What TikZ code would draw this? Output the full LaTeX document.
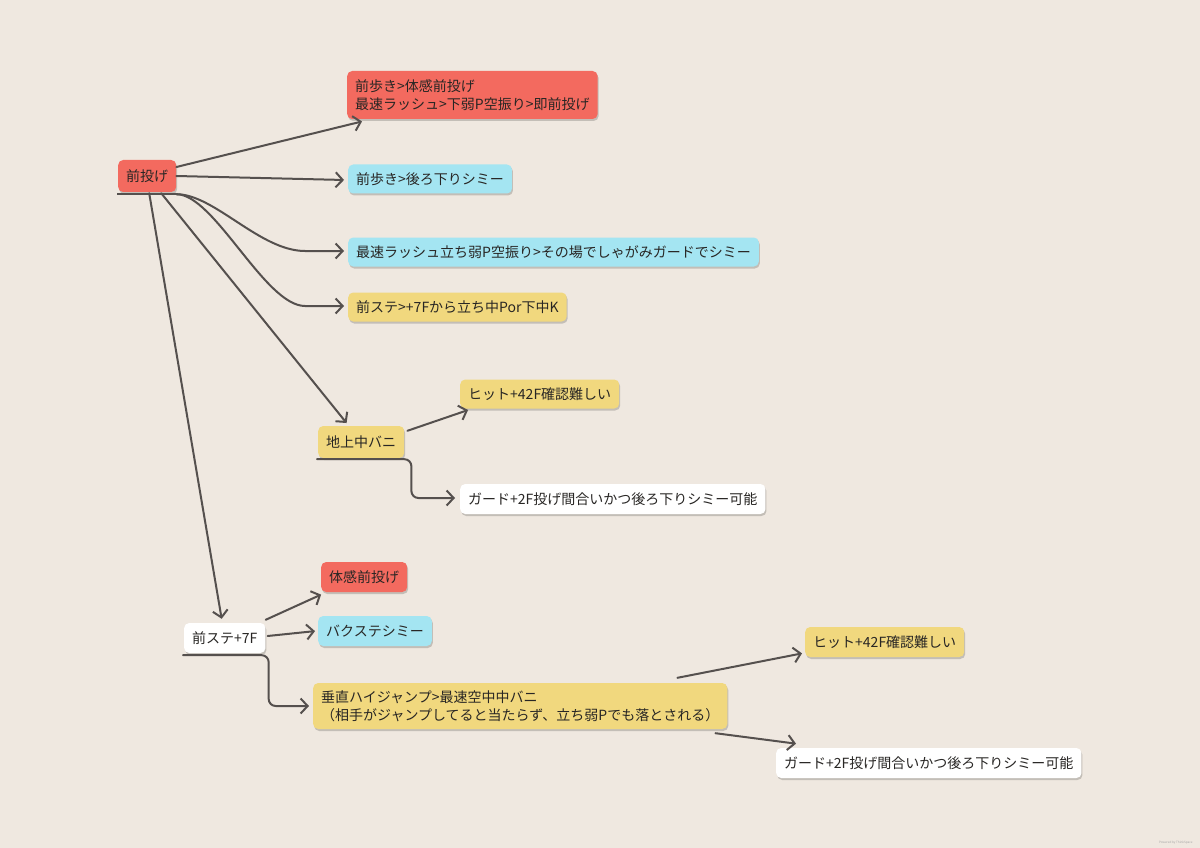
\documentclass[tikz,border=0pt]{standalone}
\usepackage{fontspec}
\setmainfont{Noto Sans CJK JP}
\usetikzlibrary{arrows.meta,shadows}
\definecolor{bg}{RGB}{239,232,224}
\definecolor{boxred}{RGB}{243,106,95}
\definecolor{boxcyan}{RGB}{164,229,242}
\definecolor{boxyellow}{RGB}{241,216,126}
\definecolor{boxwhite}{RGB}{255,255,255}
\definecolor{linegray}{RGB}{85,80,78}
\definecolor{txt}{RGB}{40,38,36}
\tikzset{
  box/.style={rounded corners=5pt, anchor=west, inner xsep=8pt, inner ysep=3pt,
    minimum height=29pt, font=\fontsize{14}{18}\selectfont, text=txt, align=left,
    drop shadow={shadow xshift=1pt, shadow yshift=-2pt, opacity=0.18, fill=black}},
  redbox/.style={box, fill=boxred},
  cyanbox/.style={box, fill=boxcyan},
  yellowbox/.style={box, fill=boxyellow},
  whitebox/.style={box, fill=boxwhite},
  conn/.style={draw=linegray, line width=2pt, line cap=round,
    -{Straight Barb[length=7pt,width=15pt]}, shorten >=1pt},
  uline/.style={draw=linegray, line width=2pt},
}
\begin{document}
\begin{tikzpicture}[x=1pt,y=-1pt]
\fill[bg] (0,0) rectangle (1200,848);
\useasboundingbox (0,0) rectangle (1200,848);

% nodes
\node[redbox, minimum height=32pt] (n0) at (118,176) {前投げ};
\node[redbox, minimum height=48pt] (r1) at (347,95) {前歩き>体感前投げ\\最速ラッシュ>下弱P空振り>即前投げ};
\node[cyanbox] (c1) at (348,179) {前歩き>後ろ下りシミー};
\node[cyanbox] (c2) at (348,252) {最速ラッシュ立ち弱P空振り>その場でしゃがみガードでシミー};
\node[yellowbox] (y1) at (348,307) {前ステ>+7Fから立ち中Por下中K};
\node[yellowbox, minimum height=32pt] (y2) at (318,442) {地上中バニ};
\node[yellowbox] (y3) at (460,394) {ヒット+42F確認難しい};
\node[whitebox, minimum height=30pt] (w1) at (460,499) {ガード+2F投げ間合いかつ後ろ下りシミー可能};
\node[redbox, minimum height=30pt] (r2) at (321,577) {体感前投げ};
\node[whitebox, minimum height=30pt] (w2) at (184,638) {前ステ+7F};
\node[cyanbox, minimum height=30pt] (c3) at (318,631) {バクステシミー};
\node[yellowbox, minimum height=46pt] (y4) at (313,706) {垂直ハイジャンプ>最速空中中バニ\\（相手がジャンプしてると当たらず、立ち弱Pでも落とされる）};
\node[yellowbox, minimum height=30pt] (y5) at (805,642) {ヒット+42F確認難しい};
\node[whitebox, minimum height=30pt] (w3) at (776,763) {ガード+2F投げ間合いかつ後ろ下りシミー可能};

% underline of 前投げ
\draw[uline] ([xshift=-1pt,yshift=-2pt]n0.south west) -- ([yshift=-2pt]n0.south east);

% connectors from 前投げ
\draw[conn] ([yshift=9pt]n0.east) -- ([xshift=16pt,yshift=-2pt]r1.south west);
\draw[conn] (n0.east) -- ([xshift=-3pt,yshift=-1pt]c1.west);
\draw[conn] ([yshift=-2pt]n0.south east) .. controls +(38,0) and +(-45,0) .. ([xshift=-43pt,yshift=1pt]c2.west) -- ([xshift=-3pt,yshift=1pt]c2.west);
\draw[conn] ([yshift=-2pt]n0.south east) .. controls +(38,0) and +(-40,0) .. ([xshift=-43pt,yshift=1pt]y1.west) -- ([xshift=-3pt,yshift=1pt]y1.west);
\draw[conn] ([xshift=14pt,yshift=-1pt]n0.south) -- ([xshift=-14pt,yshift=2pt]y2.north);
\draw[conn] ([xshift=2pt,yshift=-1pt]n0.south) -- ([xshift=-3pt,yshift=3pt]w2.north);

% connectors from 地上中バニ
\draw[conn] ([xshift=3pt,yshift=-5pt]y2.north east) -- ([xshift=9pt,yshift=-1pt]y3.south west);
\draw[conn, rounded corners=7pt] ([xshift=-1pt,yshift=-1pt]y2.south west) -- ([xshift=7pt,yshift=-1pt]y2.south east) |- ([xshift=-4pt,yshift=1pt]w1.west);

% connectors from 前ステ+7F
\draw[conn] ([yshift=3pt]w2.north east) -- ([xshift=1pt,yshift=-2pt]r2.south west);
\draw[conn] ([xshift=2pt,yshift=2pt]w2.east) -- ([xshift=-2pt]c3.west);
\draw[conn, rounded corners=7pt] ([xshift=-1pt,yshift=-2pt]w2.south west) -- ([xshift=3pt,yshift=-2pt]w2.south east) |- ([xshift=-3pt]y4.west);

% connectors from 垂直ハイジャンプ
\draw[conn] ([xshift=-50pt,yshift=5pt]y4.north east) -- ([xshift=-2pt,yshift=4pt]y5.south west);
\draw[conn] ([xshift=-12pt,yshift=-4pt]y4.south east) -- ([xshift=21pt,yshift=4pt]w3.north west);

% footer
\node[font=\fontsize{3}{4}\selectfont, text=black!35, anchor=east] (pw) at (1196,843) {Powered by ThinkSpace};
\end{tikzpicture}
\end{document}
